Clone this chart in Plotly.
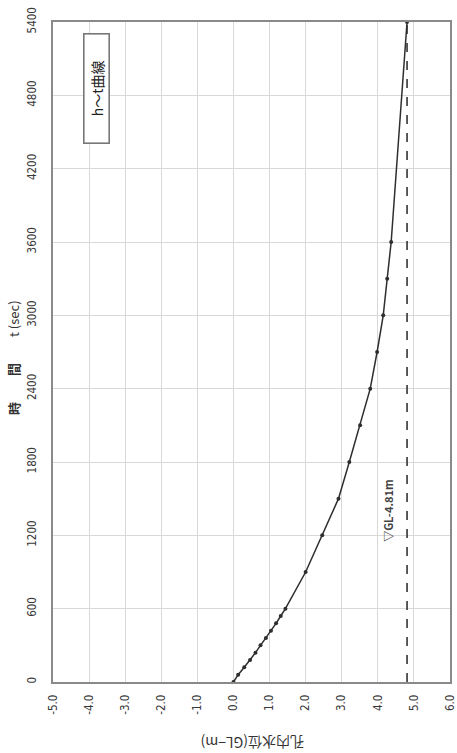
import plotly.graph_objects as go

# Recovery test: elapsed time (s) vs. water level in the borehole (GL-m)
time_sec = [0, 60, 120, 180, 240, 300, 360, 420, 480, 540, 600,
            900, 1200, 1500, 1800, 2100, 2400, 2700, 3000, 3300, 3600, 5400]
water_level = [0.00, 0.13, 0.30, 0.46, 0.61, 0.75, 0.90, 1.04, 1.18, 1.31, 1.44,
               2.00, 2.46, 2.91, 3.21, 3.51, 3.79, 3.98, 4.15, 4.26, 4.37, 4.81]

static_level = 4.81
static_label = "▽GL-4.81m"
legend_label = "h〜t曲線"
level_ticks = [-5, -4, -3, -2, -1, 0, 1, 2, 3, 4, 5, 6]
time_ticks = [0, 600, 1200, 1800, 2400, 3000, 3600, 4200, 4800, 5400]

tick_font = dict(family="Liberation Sans Narrow, DejaVu Sans Condensed, Arial, sans-serif",
                 size=11.5, color="#3a3a3a")
cjk = "Noto Sans CJK JP, sans-serif"

ML, MR, MT, MB = 53, 7, 22, 71
W, H = 457, 753

fig = go.Figure()

# static water level (dashed)
fig.add_trace(go.Scatter(
    x=[static_level, static_level], y=[time_ticks[0], time_ticks[-1]],
    mode="lines", line=dict(color="#333", width=1.6, dash="dash"),
    hoverinfo="skip", showlegend=False))

# h-t curve
fig.add_trace(go.Scatter(
    x=water_level, y=time_sec, mode="lines+markers",
    line=dict(color="#2e2e2e", width=1.5),
    marker=dict(color="#2e2e2e", size=4),
    showlegend=False))

fig.update_xaxes(
    range=[level_ticks[0], level_ticks[-1]],
    tickvals=level_ticks,
    ticktext=[f"{v:.1f}" for v in level_ticks],
    tickangle=-90, tickfont=tick_font, ticks="", ticklabelstandoff=6,
    ticklabeloverflow="allow", automargin=False,
    showgrid=True, gridcolor="#d8d8d8", gridwidth=1, zeroline=False,
    showline=True, linecolor="#8a8a8a", linewidth=2, mirror=True)

fig.update_yaxes(
    range=[time_ticks[0], time_ticks[-1]],
    tickvals=time_ticks,
    ticktext=[str(t) for t in time_ticks],
    tickangle=-90, tickfont=tick_font, ticks="", ticklabelstandoff=10,
    ticklabeloverflow="allow", automargin=False,
    showgrid=True, gridcolor="#d8d8d8", gridwidth=1, zeroline=False,
    showline=True, linecolor="#8a8a8a", linewidth=2, mirror=True)

plot_w = W - ML - MR
plot_h = H - MT - MB
bottom = H - MB

annotations = [
    # time axis title
    dict(text="<b>時　　間</b>　　t (sec)", textangle=-90, showarrow=False,
         xref="paper", yref="paper", x=-(ML - 14) / plot_w, y=(bottom - 358) / plot_h,
         xanchor="center", yanchor="middle",
         font=dict(family=cjk, size=13, color="#333")),
    # water level axis title
    dict(text="孔内水位(GL−m)", textangle=180, showarrow=False,
         xref="paper", yref="paper", x=(253 - ML) / plot_w, y=-(743 - bottom) / plot_h,
         xanchor="center", yanchor="middle",
         font=dict(family=cjk, size=14, color="#333")),
    # static level label
    dict(text="<b>" + static_label + "</b>", textangle=-90, showarrow=False,
         x=4.28, y=1400, xref="x", yref="y",
         font=dict(family=cjk, size=11, color="#444")),
    # legend box
    dict(text=legend_label, textangle=-90, showarrow=False,
         xref="paper", yref="paper", x=(96 - ML) / plot_w, y=(bottom - 89) / plot_h,
         xanchor="center", yanchor="middle",
         width=104, height=20, borderpad=2,
         bordercolor="#777", borderwidth=1.6, bgcolor="white",
         font=dict(family=cjk, size=14, color="#222")),
]

fig.update_layout(
    width=W, height=H,
    margin=dict(l=ML, r=MR, t=MT, b=MB),
    plot_bgcolor="white", paper_bgcolor="white",
    annotations=annotations,
)

fig.write_html("out.html")
